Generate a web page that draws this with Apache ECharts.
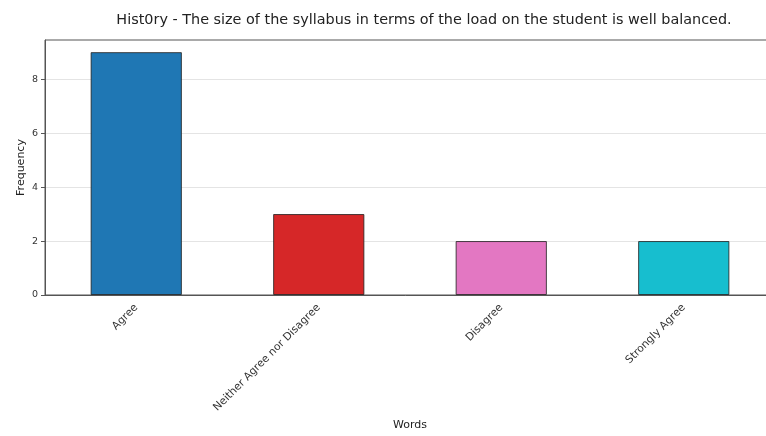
<!DOCTYPE html>
<html><head><meta charset="utf-8">
<script src="https://cdn.jsdelivr.net/npm/echarts@6/dist/echarts.min.js"></script>
<style>html,body{margin:0;padding:0;background:#fff}#c{width:766px;height:436px}</style>
</head><body><div id="c"></div>
<script>
const categories = ['Agree', 'Neither Agree nor Disagree', 'Disagree', 'Strongly Agree'];
const values = [9, 3, 2, 2];
const colors = ['#1f77b4', '#d62728', '#e377c2', '#17becf'];
const yTicks = [0, 2, 4, 6, 8];

const chart = echarts.init(document.getElementById('c'), null, {renderer: 'canvas'});
const font = 'DejaVu Sans';
chart.setOption({
  animation: false,
  title: {
    text: 'Hist0ry - The size of the syllabus in terms of the load on the student is well balanced.',
    left: 419, top: 8, textAlign: 'center',
    textStyle: {fontFamily: font, fontSize: 14.4, fontWeight: 'normal', color: '#222'}
  },
  grid: {left: 45, width: 730, top: 40, height: 255, outerBoundsMode: 'none', containLabel: false,
    show: true, borderColor: '#555', borderWidth: 1, backgroundColor: 'transparent'},
  xAxis: {
    type: 'category', data: categories,
    name: 'Words', nameLocation: 'middle', nameGap: 125, nameMoveOverlap: false,
    nameTextStyle: {fontFamily: font, fontSize: 11, color: '#222'},
    axisLine: {lineStyle: {color: '#555'}},
    axisTick: {alignWithLabel: true, length: 4, lineStyle: {color: '#555'}},
    axisLabel: {rotate: 45, fontFamily: font, fontSize: 10.7, color: '#333', margin: 11, interval: 0}
  },
  yAxis: {
    type: 'value', min: 0, max: 9.45, interval: 2,
    name: 'Frequency', nameLocation: 'middle', nameGap: 18, nameMoveOverlap: false,
    nameTextStyle: {fontFamily: font, fontSize: 11, color: '#222'},
    axisLine: {show: true, lineStyle: {color: '#555'}},
    axisTick: {show: true, length: 4, customValues: yTicks, lineStyle: {color: '#555'}},
    axisLabel: {fontFamily: font, fontSize: 9.5, color: '#333', margin: 7, customValues: yTicks},
    splitLine: {show: true, lineStyle: {color: '#e4e4e4', width: 1}}
  },
  series: [{
    type: 'bar', barWidth: '50%',
    data: values.map((v, i) => ({value: v, itemStyle: {color: colors[i], borderColor: 'rgba(30,30,30,0.8)', borderWidth: 1}}))
  }]
});
</script></body></html>
